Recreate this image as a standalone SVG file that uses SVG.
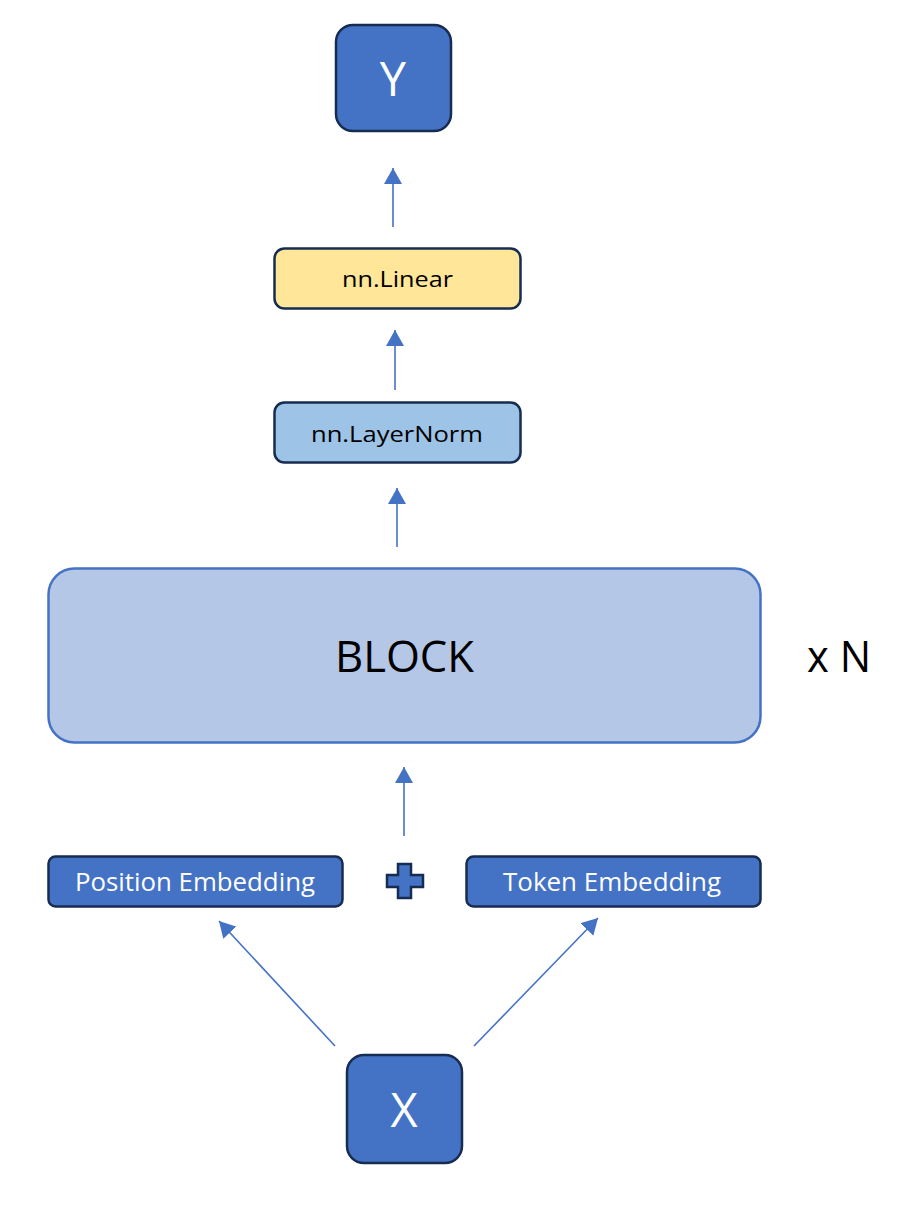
<svg xmlns="http://www.w3.org/2000/svg" width="909" height="1208" viewBox="0 0 909 1208">
<style>
.bg{fill:#ffffff}
.dark{fill:#4472C4;stroke:#172C51;stroke-width:2.5}
.lin{fill:#FFE699;stroke:#172C51;stroke-width:2.5}
.ln{fill:#9DC3E6;stroke:#172C51;stroke-width:2.5}
.blk{fill:#B4C7E7;stroke:#4472C4;stroke-width:2.5}
.t{font-family:"Open Sans","Liberation Sans",sans-serif;text-anchor:middle}
.w{fill:#ffffff}
.k{fill:#000000}
.conn{stroke:#4472C4;stroke-width:1.6;fill:none;marker-end:url(#ah)}
</style>
<defs>
<marker id="ah" markerUnits="userSpaceOnUse" markerWidth="17" markerHeight="18" refX="16" refY="9" orient="auto" viewBox="0 0 17 18">
<path d="M0,0 L16,9 L0,18 Z" fill="#4472C4"/>
</marker>
</defs>
<rect class="bg" x="0" y="0" width="909" height="1208"/>
<g id="connectors">
<line class="conn" x1="393" y1="227" x2="393" y2="168"/>
<line class="conn" x1="395" y1="390" x2="395" y2="330"/>
<line class="conn" x1="397" y1="547" x2="397" y2="488"/>
<line class="conn" x1="404" y1="836" x2="404" y2="767"/>
<line class="conn" x1="335" y1="1046" x2="219" y2="921"/>
<line class="conn" x1="474" y1="1046" x2="598" y2="918"/>
</g>
<g id="node-y">
<rect class="dark" x="336" y="25" width="115" height="106" rx="17"/>
<text class="t w" x="393" y="96" font-size="47">Y</text>
</g>
<g id="node-linear">
<rect class="lin" x="274.5" y="248.5" width="246" height="60" rx="10"/>
<text class="t k" x="397.5" y="287" font-size="21" textLength="111" lengthAdjust="spacingAndGlyphs">nn.Linear</text>
</g>
<g id="node-layernorm">
<rect class="ln" x="274.5" y="402.5" width="246" height="60" rx="10"/>
<text class="t k" x="397" y="442" font-size="21" textLength="172" lengthAdjust="spacingAndGlyphs">nn.LayerNorm</text>
</g>
<g id="node-block">
<rect class="blk" x="48.5" y="568.5" width="712" height="174" rx="26"/>
<text class="t k" x="404.5" y="672" font-size="44" textLength="139" lengthAdjust="spacingAndGlyphs">BLOCK</text>
</g>
<g id="label-xn">
<text class="t k" x="839" y="672" font-size="44" textLength="64" lengthAdjust="spacingAndGlyphs">x N</text>
</g>
<g id="node-position">
<rect class="dark" x="48.5" y="856.5" width="294" height="50" rx="7"/>
<text class="t w" x="195" y="891" font-size="25" textLength="240" lengthAdjust="spacingAndGlyphs">Position Embedding</text>
</g>
<g id="node-plus">
<path class="dark" stroke-width="2" d="M398,864 H411 V875 H423 V887 H411 V898 H398 V887 H387 V875 H398 Z"/>
</g>
<g id="node-token">
<rect class="dark" x="466.5" y="856.5" width="294" height="50" rx="7"/>
<text class="t w" x="612" y="891" font-size="25" textLength="218" lengthAdjust="spacingAndGlyphs">Token Embedding</text>
</g>
<g id="node-x">
<rect class="dark" x="347" y="1055" width="115" height="108" rx="17"/>
<text class="t w" x="404" y="1127" font-size="47">X</text>
</g>
</svg>
